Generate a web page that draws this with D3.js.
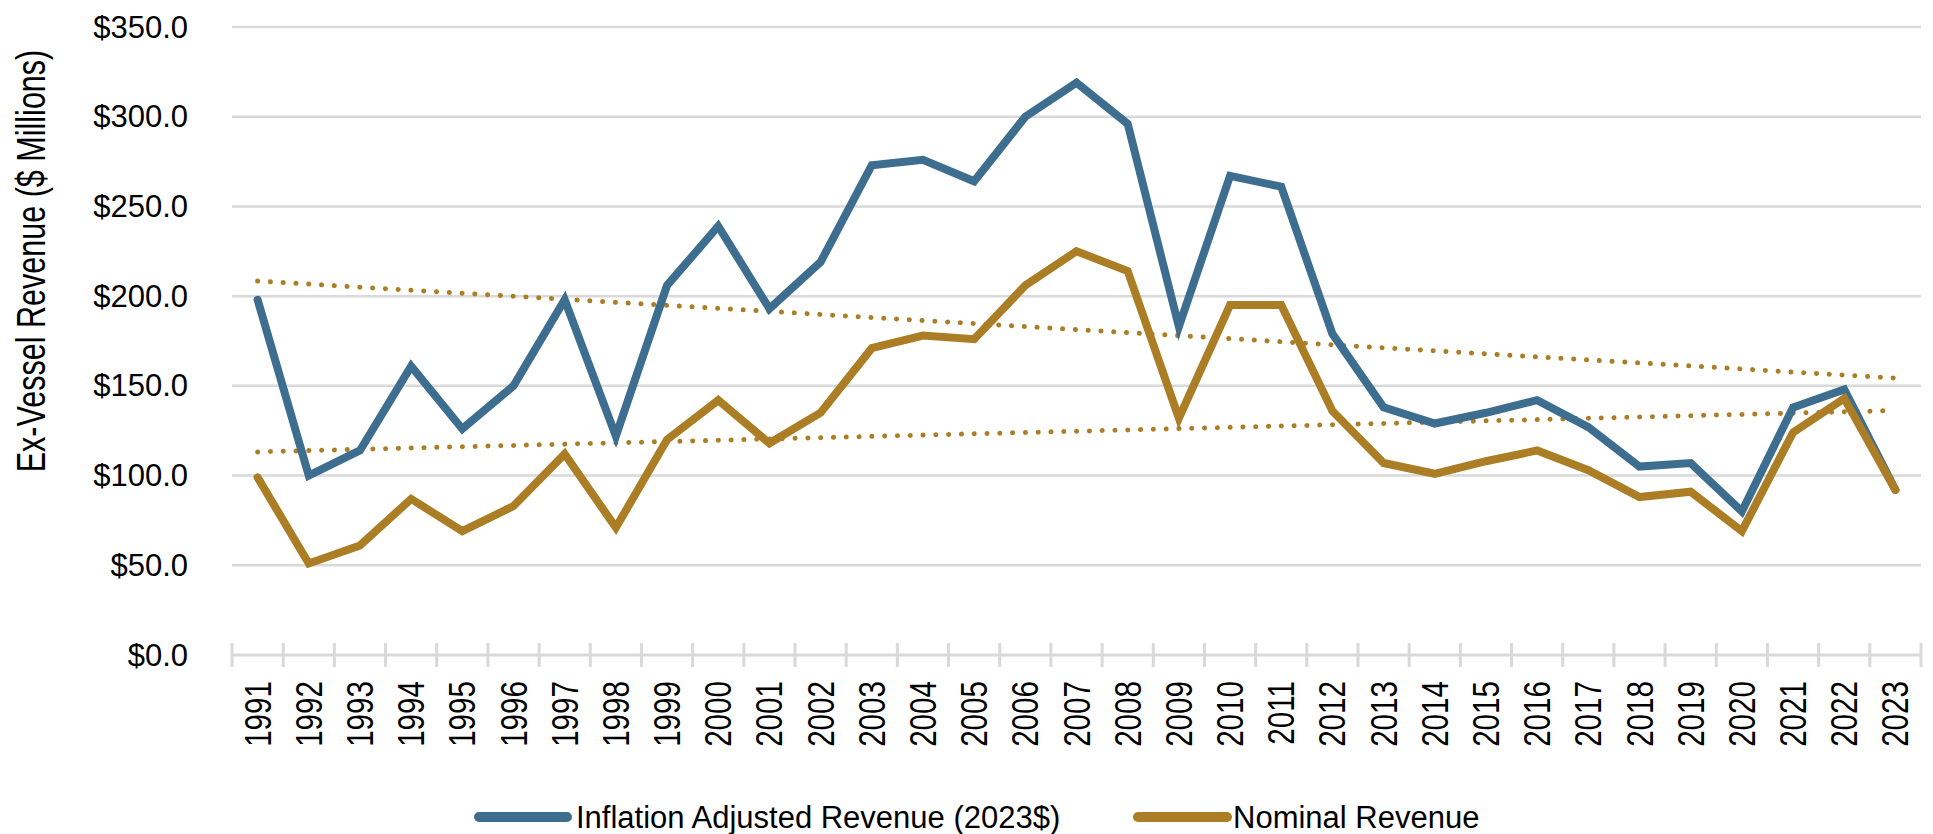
<!DOCTYPE html>
<html>
<head>
<meta charset="utf-8">
<script src="https://cdn.jsdelivr.net/npm/d3@7"></script>
<style>
  html, body { margin: 0; padding: 0; background: #fff; }
  svg { display: block; }
  text { font-family: "Liberation Sans", Arial, sans-serif; fill: #000; }
</style>
</head>
<body>
<div id="chart"></div>
<script>
// ---------- data ----------
const years = ["1991","1992","1993","1994","1995","1996","1997","1998","1999","2000",
  "2001","2002","2003","2004","2005","2006","2007","2008","2009","2010",
  "2011","2012","2013","2014","2015","2016","2017","2018","2019","2020",
  "2021","2022","2023"];
const inflationAdjusted = [198,100,114,161,126,150,198,122,206,239,
  193,219,273,276,264,300,319,296,183,267,
  261,179,138,129,135,142,127,105,107,80,
  138,148,92];
const nominal = [99,51,61,87,69,83,112,71,120,142,
  118,135,171,178,176,206,225,214,132,195,
  195,136,107,101,108,114,103,88,91,69,
  124,143,92];
const yTicks = [0,50,100,150,200,250,300,350];
const seriesNames = ["Inflation Adjusted Revenue (2023$)", "Nominal Revenue"];
const yTitle = "Ex-Vessel Revenue ($ Millions)";

// ---------- layout ----------
const W = 1933, H = 834;
const plotLeft = 232, plotRight = 1921, plotTop = 27, plotBottom = 655;
const blue = "#3d6e8f", gold = "#ab7e26", grid = "#d9d9d9";

const svg = d3.select("#chart").append("svg").attr("width", W).attr("height", H);

const x = d3.scaleBand().domain(years).range([plotLeft, plotRight]).paddingInner(0).paddingOuter(0);
const y = d3.scaleLinear().domain([0, 350]).range([plotBottom, plotTop]);
const cx = d => x(d) + x.bandwidth() / 2;

// gridlines
svg.append("g").selectAll("line").data(yTicks.filter(v => v > 0)).join("line")
  .attr("x1", plotLeft).attr("x2", plotRight)
  .attr("y1", d => y(d)).attr("y2", d => y(d))
  .attr("stroke", grid).attr("stroke-width", 2.5);

// y tick labels
svg.append("g").selectAll("text").data(yTicks).join("text")
  .attr("x", 188).attr("y", d => y(d))
  .attr("text-anchor", "end").attr("dominant-baseline", "central")
  .style("font-size", "31px")
  .text(d => "$" + d3.format(".1f")(d));

// x axis line + cross ticks
svg.append("line").attr("x1", plotLeft).attr("x2", plotRight)
  .attr("y1", y(0)).attr("y2", y(0)).attr("stroke", grid).attr("stroke-width", 3);
const edges = years.map(d => x(d)).concat([plotRight]);
svg.append("g").selectAll("line").data(edges).join("line")
  .attr("x1", d => d).attr("x2", d => d)
  .attr("y1", y(0) - 12).attr("y2", y(0) + 12)
  .attr("stroke", grid).attr("stroke-width", 3);

// x tick labels (rotated)
svg.append("g").selectAll("text").data(years).join("text")
  .attr("transform", d => `translate(${cx(d) + 13},681) rotate(-90) scale(0.8,1)`)
  .attr("text-anchor", "end")
  .style("font-size", "37px")
  .text(d => d);

// y title
svg.append("text")
  .attr("transform", "translate(45,261) rotate(-90) scale(0.745,1)")
  .attr("text-anchor", "middle")
  .style("font-size", "41px")
  .text(yTitle);

// trend lines (least-squares linear fit of each series)
function trend(vals) {
  const n = vals.length, xs = d3.range(n);
  const mx = d3.mean(xs), my = d3.mean(vals);
  const b = d3.sum(xs, i => (i - mx) * (vals[i] - my)) / d3.sum(xs, i => (i - mx) ** 2);
  const a = my - b * mx;
  return [[years[0], a], [years[n - 1], a + b * (n - 1)]];
}
const trendLine = d3.line().x(d => cx(d[0])).y(d => y(d[1]));
[inflationAdjusted, nominal].forEach(vals => {
  svg.append("path").attr("d", trendLine(trend(vals)))
    .attr("fill", "none").attr("stroke", gold).attr("stroke-width", 5)
    .attr("stroke-linecap", "round").attr("stroke-dasharray", "0.1 12.7");
});

// series lines
const line = d3.line().x((d, i) => cx(years[i])).y(d => y(d));
svg.append("path").attr("d", line(inflationAdjusted))
  .attr("fill", "none").attr("stroke", blue).attr("stroke-width", 8)
  .attr("stroke-linejoin", "miter").attr("stroke-miterlimit", 10).attr("stroke-linecap", "round");
svg.append("path").attr("d", line(nominal))
  .attr("fill", "none").attr("stroke", gold).attr("stroke-width", 8)
  .attr("stroke-linejoin", "miter").attr("stroke-miterlimit", 10).attr("stroke-linecap", "round");

// legend
const legend = [
  {name: seriesNames[0], color: blue, x1: 479, x2: 567, tx: 576},
  {name: seriesNames[1], color: gold, x1: 1138, x2: 1227, tx: 1233}
];
const lg = svg.append("g").selectAll("g").data(legend).join("g");
lg.append("line").attr("x1", d => d.x1).attr("x2", d => d.x2)
  .attr("y1", 817).attr("y2", 817).attr("stroke", d => d.color)
  .attr("stroke-width", 10).attr("stroke-linecap", "round");
lg.append("text").attr("x", d => d.tx).attr("y", 828)
  .style("font-size", "31px").text(d => d.name);
</script>
</body>
</html>
